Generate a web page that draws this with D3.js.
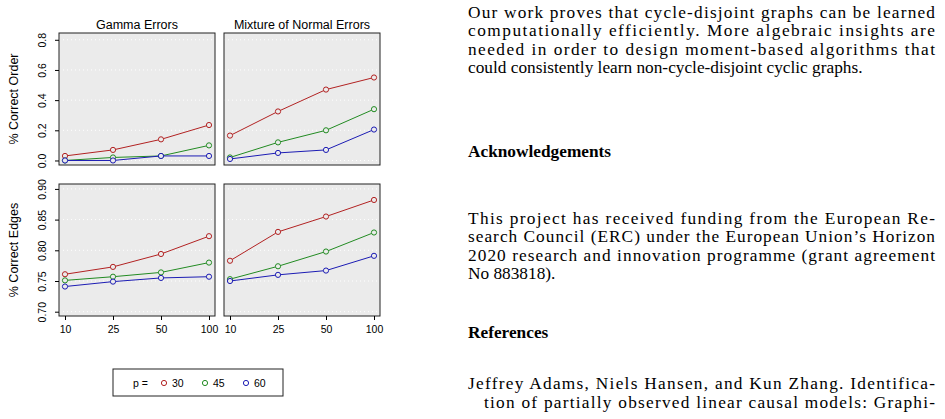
<!DOCTYPE html>
<html><head><meta charset="utf-8">
<script src="https://cdn.jsdelivr.net/npm/d3@7"></script>
<style>body{margin:0;background:#fff}</style>
</head><body><div id="chart"></div>
<script>
const sampleSizes = ['10', '25', '50', '100'];
const panelTitles = ['Gamma Errors', 'Mixture of Normal Errors'];
const rowLabels = ['% Correct Order', '% Correct Edges'];
const pValues = ['30', '45', '60'];
const colors = ['#b22222', '#228b22', '#1c1cb4'];

const orderGamma = [[0.03, 0.07, 0.14, 0.235], [0.00, 0.02, 0.03, 0.10], [0.00, 0.00, 0.03, 0.03]];
const orderMix = [[0.165, 0.325, 0.47, 0.55], [0.02, 0.12, 0.20, 0.34], [0.01, 0.05, 0.07, 0.205]];
const edgesGamma = [[0.761, 0.773, 0.794, 0.823], [0.751, 0.757, 0.764, 0.780], [0.741, 0.749, 0.755, 0.757]];
const edgesMix = [[0.783, 0.830, 0.855, 0.882], [0.753, 0.774, 0.798, 0.829], [0.750, 0.760, 0.767, 0.791]];
const orderTicks = [0, 0.2, 0.4, 0.6, 0.8];
const edgeTicks = [0.70, 0.75, 0.80, 0.85, 0.90];

const textLines = [
  {t: 'Our work proves that cycle-disjoint graphs can be learned', y: 18, j: true},
  {t: 'computationally efficiently. More algebraic insights are', y: 36, j: true},
  {t: 'needed in order to design moment-based algorithms that', y: 55, j: true},
  {t: 'could consistently learn non-cycle-disjoint cyclic graphs.', y: 73, j: false},
  {t: 'Acknowledgements', y: 157, bold: true},
  {t: 'This project has received funding from the European Re-', y: 224, j: true},
  {t: 'search Council (ERC) under the European Union\u2019s Horizon', y: 242, j: true},
  {t: '2020 research and innovation programme (grant agreement', y: 261, j: true},
  {t: 'No 883818).', y: 279, j: false},
  {t: 'References', y: 338, bold: true},
  {t: 'Jeffrey Adams, Niels Hansen, and Kun Zhang.  Identifica-', y: 389, j: true},
  {t: 'tion of partially observed linear causal models: Graphi-', y: 408, j: true, indent: 16}
];

const svg = d3.select('#chart').append('svg').attr('width', 945).attr('height', 419)
  .style('font-family', 'Liberation Sans, Arial, sans-serif');

const panels = [
  {data: orderGamma, col: 0, row: 0, domain: [-0.03, 0.845], ticks: orderTicks, fmt: d3.format('.1f')},
  {data: orderMix, col: 1, row: 0, domain: [-0.03, 0.845], ticks: orderTicks, fmt: d3.format('.1f')},
  {data: edgesGamma, col: 0, row: 1, domain: [0.693, 0.908], ticks: edgeTicks, fmt: d3.format('.2f')},
  {data: edgesMix, col: 1, row: 1, domain: [0.693, 0.908], ticks: edgeTicks, fmt: d3.format('.2f')}
];
const pw = 156, ph = 132;
const colX = [59, 224], rowY = [33, 184];

panels.forEach(p => {
  const g = svg.append('g').attr('transform', `translate(${colX[p.col]},${rowY[p.row]})`);
  const x = d3.scalePoint().domain(sampleSizes).range([6, pw - 6]);
  const y = d3.scaleLinear().domain(p.domain).range([ph, 0]);
  g.append('rect').attr('width', pw).attr('height', ph).attr('fill', '#ebebeb');
  g.selectAll('.grid').data(p.ticks).join('line')
    .attr('x1', 0).attr('x2', pw).attr('y1', d => y(d)).attr('y2', d => y(d))
    .attr('stroke', '#fff').attr('stroke-dasharray', '1,3');
  p.data.forEach((s, i) => {
    g.append('path').datum(s).attr('fill', 'none').attr('stroke', colors[i]).attr('stroke-width', 1)
      .attr('d', d3.line().x((d, k) => x(sampleSizes[k])).y(d => y(d)));
    g.selectAll(null).data(s).join('circle')
      .attr('cx', (d, k) => x(sampleSizes[k])).attr('cy', d => y(d)).attr('r', 2.6)
      .attr('fill', '#ebebeb').attr('stroke', colors[i]).attr('stroke-width', 1);
  });
  g.append('rect').attr('width', pw).attr('height', ph).attr('fill', 'none').attr('stroke', '#222');
  if (p.col === 0) {
    const ax = g.append('g').call(d3.axisLeft(y).tickValues(p.ticks).tickFormat(p.fmt).tickSize(4).tickPadding(3));
    ax.select('.domain').remove();
    ax.selectAll('text').attr('transform', 'rotate(-90)').attr('text-anchor', 'middle')
      .attr('x', 0).attr('y', -13).attr('dy', 0).style('font-size', '10.5px');
    g.append('text').attr('transform', `translate(-41,${ph / 2}) rotate(-90)`).attr('text-anchor', 'middle')
      .style('font-size', '12.5px').text(rowLabels[p.row]);
  }
  if (p.row === 0) {
    g.append('text').attr('x', pw / 2).attr('y', -4).attr('text-anchor', 'middle')
      .style('font-size', '12.5px').text(panelTitles[p.col]);
  } else {
    const ax = g.append('g').attr('transform', `translate(0,${ph})`)
      .call(d3.axisBottom(x).tickSize(4).tickPadding(6));
    ax.select('.domain').remove();
    ax.selectAll('text').style('font-size', '10.5px');
  }
});

const lg = svg.append('g').attr('transform', 'translate(113,369)');
lg.append('rect').attr('width', 170).attr('height', 27).attr('fill', '#fff').attr('stroke', '#222');
lg.append('text').attr('x', 20).attr('y', 17.5).style('font-size', '10.5px').text('p =');
pValues.forEach((v, i) => {
  const cx = 51 + i * 41;
  lg.append('circle').attr('cx', cx).attr('cy', 14).attr('r', 2.6).attr('fill', 'none').attr('stroke', colors[i]);
  lg.append('text').attr('x', cx + 8).attr('y', 17.5).style('font-size', '10.5px').text(v);
});

const tg = svg.append('g').style('font-family', 'Liberation Serif, Times New Roman, serif').style('font-size', '17.3px');
textLines.forEach(l => {
  const t = tg.append('text').attr('x', 468 + (l.indent || 0)).attr('y', l.y).text(l.t);
  if (l.bold) t.style('font-weight', 'bold');
  if (l.j) t.attr('textLength', 467 - (l.indent || 0)).attr('lengthAdjust', 'spacing');
});
</script></body></html>
